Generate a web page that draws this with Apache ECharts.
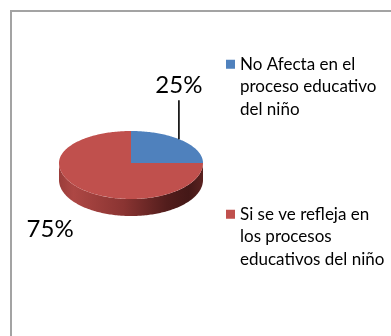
<!DOCTYPE html>
<html>
<head>
<meta charset="utf-8">
<script src="https://cdn.jsdelivr.net/npm/echarts@6/dist/echarts.min.js"></script>
<style>
  html, body { margin: 0; padding: 0; background: #fff; }
  #chart { width: 391px; height: 336px; }
</style>
</head>
<body>
<div id="chart"></div>
<script>
// Categories (legend text, wrapped as displayed) and their shares
const categories = [
  'No Afecta en el\nproceso educativo\ndel niño',
  'Si se ve refleja en\nlos procesos\neducativos del niño'
];
const values = [25, 75];
const colors = ['#4F81BD', '#C0504D'];

// Tilted pie geometry
const PIE = { cx: 131, cy: 163, rx: 72, ryBack: 32, ryFront: 36, depth: 17 };
// Label placement relative to each slice's mid-edge point
const labelOffsets = [
  { dx: -3, dy: -55, leader: true },
  { dx: -30, dy: 41, leader: false }
];

const total = values.reduce((a, b) => a + b, 0);

function edgePoint(t, dy) {
  const s = Math.sin(t);
  return [
    PIE.cx + PIE.rx * Math.cos(t),
    PIE.cy + (s > 0 ? PIE.ryFront : PIE.ryBack) * s + (dy || 0)
  ];
}

function arcPoints(a0, a1, dy) {
  const n = Math.max(2, Math.ceil(Math.abs(a1 - a0) / 0.02));
  const pts = [];
  for (let k = 0; k <= n; k++) pts.push(edgePoint(a0 + (a1 - a0) * k / n, dy));
  return pts;
}

const wallFill = {
  type: 'linear', x: PIE.cx - PIE.rx, y: 0, x2: PIE.cx + PIE.rx, y2: 0, global: true,
  colorStops: [
    { offset: 0, color: '#9a3d3a' },
    { offset: 0.1, color: '#ad4744' },
    { offset: 0.45, color: '#8a3432' },
    { offset: 0.75, color: '#521d1c' },
    { offset: 0.9, color: '#441817' },
    { offset: 1, color: '#5a2220' }
  ]
};

function renderSlice(params, api) {
  const i = params.seriesIndex;
  let before = 0;
  for (let k = 0; k < i; k++) before += values[k];
  const v = api.value(0);
  const a0 = -Math.PI / 2 + 2 * Math.PI * before / total;
  const a1 = a0 + 2 * Math.PI * v / total;
  const color = api.visual('color');
  const children = [];

  // front wall (visible between 0 and PI)
  const s = Math.max(a0, 0), e = Math.min(a1, Math.PI);
  if (e > s) {
    const top = arcPoints(s, e, 0);
    const bottom = arcPoints(e, s, PIE.depth);
    children.push({
      type: 'polygon',
      shape: { points: top.concat(bottom) },
      style: { fill: wallFill, stroke: null }
    });
  }

  // top face
  children.push({
    type: 'polygon',
    shape: { points: [[PIE.cx, PIE.cy]].concat(arcPoints(a0, a1, 0)) },
    style: { fill: color, stroke: null }
  });

  // percentage label
  const mid = (a0 + a1) / 2;
  const anchor = edgePoint(mid, 0);
  const off = labelOffsets[i];
  const pct = Math.round(v / total * 100) + '%';
  if (off.leader) {
    children.push({
      type: 'line',
      shape: { x1: anchor[0] + off.dx, y1: anchor[1] - 1, x2: anchor[0] + off.dx, y2: anchor[1] - 40 },
      style: { stroke: '#000', lineWidth: 1.6 }
    });
  }
  children.push({
    type: 'text',
    style: {
      text: pct, x: anchor[0] + off.dx, y: anchor[1] + off.dy,
      fill: '#000', fontSize: 24, fontFamily: 'Lato',
      align: 'center', verticalAlign: 'middle'
    }
  });

  return { type: 'group', children };
}

const chart = echarts.init(document.getElementById('chart'), null, { renderer: 'canvas' });
chart.setOption({
  backgroundColor: '#fff',
  animation: false,
  graphic: [{
    type: 'rect', silent: true,
    shape: { x: 11, y: 11, width: 420, height: 420 },
    style: { fill: 'none', stroke: '#a3a3a3', lineWidth: 2 }
  }],
  legend: categories.map((name, i) => ({
    data: [name],
    left: 226, top: i === 0 ? 53 : 203,
    padding: 0, orient: 'vertical', selectedMode: false,
    itemWidth: 9, itemHeight: 54,
    icon: 'path://M0,0h9v9h-9zM0,54h9',
    itemStyle: { borderWidth: 0 },
    textStyle: { fontFamily: 'Lato', fontSize: 17, lineHeight: 22.5, color: '#000' }
  })),
  series: categories.map((name, i) => ({
    type: 'custom',
    name: name,
    coordinateSystem: 'none',
    silent: true,
    itemStyle: { color: colors[i] },
    data: [[values[i]]],
    renderItem: renderSlice
  }))
});
</script>
</body>
</html>
